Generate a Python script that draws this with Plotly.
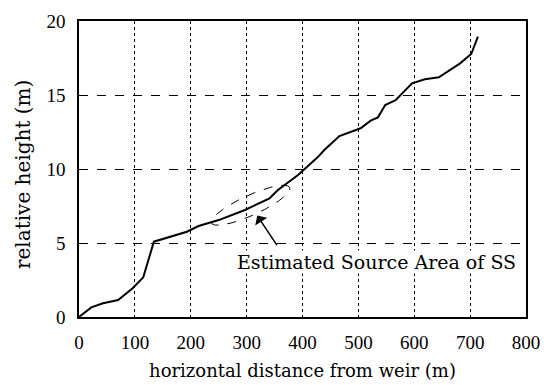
import numpy as np
import plotly.graph_objects as go

# profile data (horizontal distance from weir, relative height)
dist = [0, 22, 43, 70, 96, 115, 134, 155, 193, 214, 250, 297, 341, 356, 392, 427, 439,
        466, 498, 504, 522, 535, 548, 567, 596, 605, 619, 644, 661, 682, 702, 714]
height = [0, 0.65, 0.93, 1.15, 1.94, 2.68, 5.09, 5.32, 5.76, 6.15, 6.55, 7.23, 8.02, 8.58,
          9.59, 10.79, 11.28, 12.23, 12.68, 12.75, 13.27, 13.49, 14.32, 14.66, 15.79, 15.9,
          16.06, 16.2, 16.64, 17.14, 17.77, 18.94]

x_ticks = [0, 100, 200, 300, 400, 500, 600, 700, 800]
y_ticks = [0, 5, 10, 15, 20]

# estimated source area ellipse (data units)
ell_center = (307, 7.55)
ell_end = (377, 8.75)      # end of major axis
ell_minor_px = 10          # semi-minor axis in pixels

label_text = "Estimated Source Area of SS"
label_pos = (533, 3.72)
arrow_head = (319, 6.85)
arrow_tail = (356, 4.75)

FONT = "Liberation Serif"
TFONT = "DejaVu Serif"
W, H = 547, 385
ml, mr, mt, mb = 79, 21, 21, 68
sx = (W - ml - mr) / 800.0
sy = (H - mt - mb) / 20.0

# ellipse in pixel space, then back to data units
dxp = (ell_end[0] - ell_center[0]) * sx
dyp = (ell_end[1] - ell_center[1]) * sy
a = np.hypot(dxp, dyp)
ang = np.arctan2(dyp, dxp)
t = np.linspace(0, 2 * np.pi, 120)
ex = a * np.cos(t) * np.cos(ang) - ell_minor_px * np.sin(t) * np.sin(ang)
ey = a * np.cos(t) * np.sin(ang) + ell_minor_px * np.sin(t) * np.cos(ang)
ell_x = ell_center[0] + ex / sx
ell_y = ell_center[1] + ey / sy

fig = go.Figure()
fig.add_trace(go.Scatter(x=ell_x, y=ell_y, mode="lines",
                         line=dict(color="black", width=1, dash="dash"),
                         hoverinfo="skip", showlegend=False))
fig.add_trace(go.Scatter(x=dist, y=height, mode="lines",
                         line=dict(color="black", width=2), showlegend=False))

fig.add_annotation(x=arrow_head[0], y=arrow_head[1], ax=arrow_tail[0], ay=arrow_tail[1],
                   axref="x", ayref="y", xref="x", yref="y", text="",
                   showarrow=True, arrowhead=1, arrowsize=1.6, arrowwidth=1.5,
                   arrowcolor="black")
fig.add_annotation(x=label_pos[0], y=label_pos[1], xref="x", yref="y",
                   text=label_text, showarrow=False,
                   font=dict(family=TFONT, size=19, color="black"),
                   bgcolor="white", borderpad=0)
fig.add_annotation(x=-0.125, y=0.48, xref="paper", yref="paper",
                   text="relative height (m)", textangle=-90, showarrow=False,
                   xanchor="center", yanchor="middle",
                   font=dict(family=TFONT, size=20, color="black"))

axis_common = dict(showline=True, linecolor="black", linewidth=1.5, mirror=True,
                   gridcolor="black", gridwidth=1, zeroline=False, ticks="",
                   automargin=False,
                   tickfont=dict(family=FONT, size=19, color="black"))
fig.update_xaxes(range=[0, 800], tickvals=x_ticks, griddash="dot",
                 ticklabelstandoff=7,
                 title=dict(text="horizontal distance from weir (m)",
                            font=dict(family=TFONT, size=18, color="black"), standoff=13),
                 **axis_common)
fig.update_yaxes(range=[0, 20], tickvals=y_ticks, griddash="dash",
                 ticklabelstandoff=8, **axis_common)
fig.update_layout(width=W, height=H, margin=dict(l=ml, r=mr, t=mt, b=mb),
                  plot_bgcolor="white", paper_bgcolor="white")
fig.write_html("out.html")
